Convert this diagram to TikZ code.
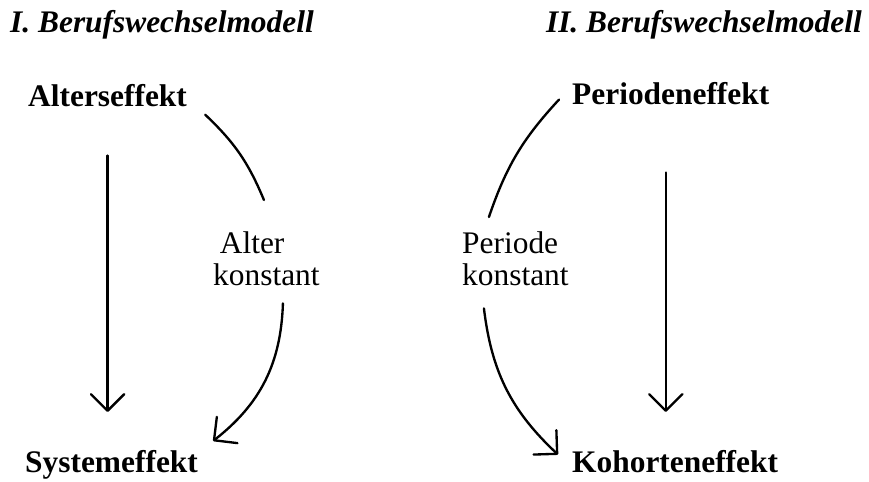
\documentclass[tikz,border=0pt]{standalone}
\usepackage{fontspec}
\setmainfont{Liberation Serif}
\usetikzlibrary{arrows.meta}

\begin{document}
\begin{tikzpicture}[
      every node/.style={inner sep=0pt, font=\fontsize{26.8}{27.6}\selectfont},
      ttl/.style={font=\fontsize{26.8}{27.6}\selectfont\bfseries\itshape},
      eff/.style={font=\fontsize{26.8}{27.6}\selectfont\bfseries},
      cond/.style={align=left, anchor=north west},
      lin/.style={line width=2pt, line cap=round},
      arr/.style={lin, -{Straight Barb[length=5mm, width=10mm, round]}}]
    \useasboundingbox (0,0) rectangle (26.07,14.43);
    % titles
    \node[ttl, anchor=base west] (T1) at (0.30,13.44) {I. Berufswechselmodell};
    \node[ttl, anchor=base east] (T2) at (25.86,13.44) {II. Berufswechselmodell};
    % effects
    \node[eff, anchor=base west] (AE) at (0.84,11.22) {Alterseffekt};
    \node[eff, anchor=base west] (PE) at (17.16,11.28) {Periodeneffekt};
    \node[eff, anchor=base west] (SE) at (0.75,0.27) {Systemeffekt};
    \node[eff, anchor=base west] (KE) at (17.16,0.27) {Kohorteneffekt};
    % conditions
    \node[cond] (AK) at (6.39,7.50) {\hspace*{0.2cm}Alter\\konstant};
    \node[cond] (PK) at (13.86,7.50) {Periode\\konstant};
    % straight arrows
    \draw[arr, shorten <=1.44cm, shorten >=1.13cm] (AE.south) -- (AE.south |- SE.north);
    \draw[arr, shorten <=2.01cm, shorten >=1.13cm] ([xshift=-0.15cm]PE.south)
          -- ([xshift=-0.15cm]PE.south |- KE.north);
    % curved arrows
    \draw[lin] ([xshift=0.54cm, yshift=-0.555cm]AE.east) to[bend left=12]
          ([xshift=-0.075cm, yshift=0.93cm]AK.north);
    \draw[arr] ([xshift=0.495cm, yshift=-0.525cm]AK.south) to[bend left=25]
          ([xshift=0.45cm, yshift=0.26cm]SE.north east);
    \draw[lin] ([xshift=-0.39cm, yshift=-0.165cm]PE.west) to[bend right=12]
          ([xshift=-0.795cm, yshift=0.42cm]PK.north);
    \draw[arr] ([xshift=-0.945cm, yshift=-0.675cm]PK.south) to[bend right=20]
          ([xshift=-0.42cm, yshift=0.195cm]KE.west);
  \end{tikzpicture}
\end{document}
